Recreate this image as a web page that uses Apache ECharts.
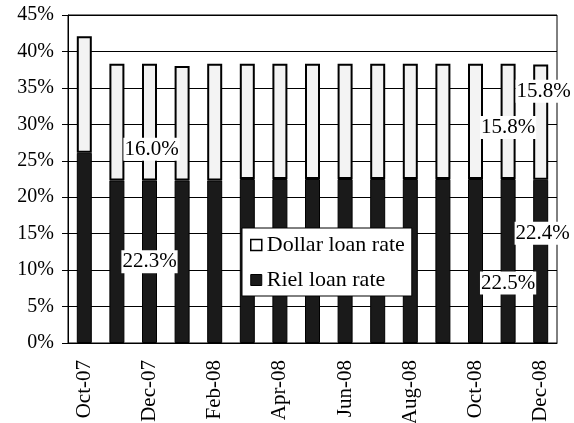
<!DOCTYPE html>
<html>
<head>
<meta charset="utf-8">
<script src="https://cdn.jsdelivr.net/npm/echarts@6/dist/echarts.min.js"></script>
<style>
  html, body { margin: 0; padding: 0; background: #fff; }
  #chart { width: 574px; height: 423px; }
</style>
</head>
<body>
<div id="chart"></div>
<script>
const months = ['Oct-07', 'Nov-07', 'Dec-07', 'Jan-08', 'Feb-08', 'Mar-08', 'Apr-08', 'May-08',
  'Jun-08', 'Jul-08', 'Aug-08', 'Sep-08', 'Oct-08', 'Nov-08', 'Dec-08']
const rielRate = [26.1, 22.3, 22.3, 22.3, 22.3, 22.5, 22.5, 22.5, 22.5, 22.5, 22.5, 22.5, 22.5, 22.5, 22.4]
const dollarRate = [16.0, 16.0, 16.0, 15.7, 16.0, 15.8, 15.8, 15.8, 15.8, 15.8, 15.8, 15.8, 15.8, 15.8, 15.8]
const yTicks = [0, 5, 10, 15, 20, 25, 30, 35, 40, 45]

// which bars carry a value label, and where the label box was nudged to
const rielLabelAt = { 2: [0, 0], 13: [0, 22], 14: [2, -28] }
const dollarLabelAt = { 2: [2, 27], 13: [0, 6], 14: [3, -31] }

const font = "'Liberation Serif', 'Times New Roman', serif"

const labelStyle = (offset) => ({
  show: true,
  position: 'inside',
  offset: offset,
  formatter: (p) => p.value.toFixed(1) + '%',
  color: '#000',
  fontFamily: font,
  fontSize: 21,
  backgroundColor: '#fff',
  padding: [2, 1, 0, 1]
})

const buildData = (values, labelAt) => values.map((v, i) => {
  if (labelAt[i]) return { value: v, label: labelStyle(labelAt[i]) }
  return v
})

const chart = echarts.init(document.getElementById('chart'))

const option = {
  animation: false,
  grid: {
    left: 68,
    right: 17,
    top: 15,
    bottom: 80,
    containLabel: false,
    outerBoundsMode: 'none',
    show: true,
    borderColor: '#000',
    borderWidth: 1
  },
  legend: {
    orient: 'vertical',
    left: 242,
    top: 228,
    padding: [6, 7, 5, 8],
    itemGap: 13,
    itemWidth: 11,
    itemHeight: 11,
    backgroundColor: '#fff',
    borderColor: '#000',
    borderWidth: 1,
    borderRadius: 0,
    textStyle: { fontFamily: font, fontSize: 22, color: '#000' },
    data: [
      { name: 'Dollar loan rate', icon: 'rect', itemStyle: { color: '#fff', borderColor: '#000', borderWidth: 1.5 } },
      { name: 'Riel loan rate', icon: 'rect', itemStyle: { color: '#1a1a1a', borderColor: '#000', borderWidth: 1 } }
    ]
  },
  xAxis: {
    type: 'category',
    data: months,
    boundaryGap: true,
    axisLine: { lineStyle: { color: '#000', width: 1 } },
    axisTick: { interval: 1, length: 6, lineStyle: { color: '#000' } },
    axisLabel: {
      interval: 1,
      rotate: 90,
      margin: 17,
      color: '#000',
      fontFamily: font,
      fontSize: 21
    }
  },
  yAxis: {
    type: 'value',
    min: yTicks[0],
    max: yTicks[yTicks.length - 1],
    interval: 5,
    axisLine: { show: true, lineStyle: { color: '#000', width: 1 } },
    axisTick: { show: true, inside: false, length: 6, lineStyle: { color: '#000' } },
    axisLabel: {
      margin: 14,
      color: '#000',
      fontFamily: font,
      fontSize: 20,
      formatter: (v) => v + '%'
    },
    splitLine: { show: true, lineStyle: { color: '#000', width: 1 } }
  },
  series: [
    {
      name: 'Riel loan rate',
      type: 'bar',
      stack: 'rate',
      barWidth: 15,
      data: buildData(rielRate, rielLabelAt),
      itemStyle: { color: '#1a1a1a', borderColor: '#000', borderWidth: 1 },
      label: { show: false }
    },
    {
      name: 'Dollar loan rate',
      type: 'bar',
      stack: 'rate',
      barWidth: 15,
      data: buildData(dollarRate, dollarLabelAt),
      itemStyle: { color: '#f3f3f3', borderColor: '#000', borderWidth: 2 },
      label: { show: false }
    }
  ]
}

chart.setOption(option)
</script>
</body>
</html>
